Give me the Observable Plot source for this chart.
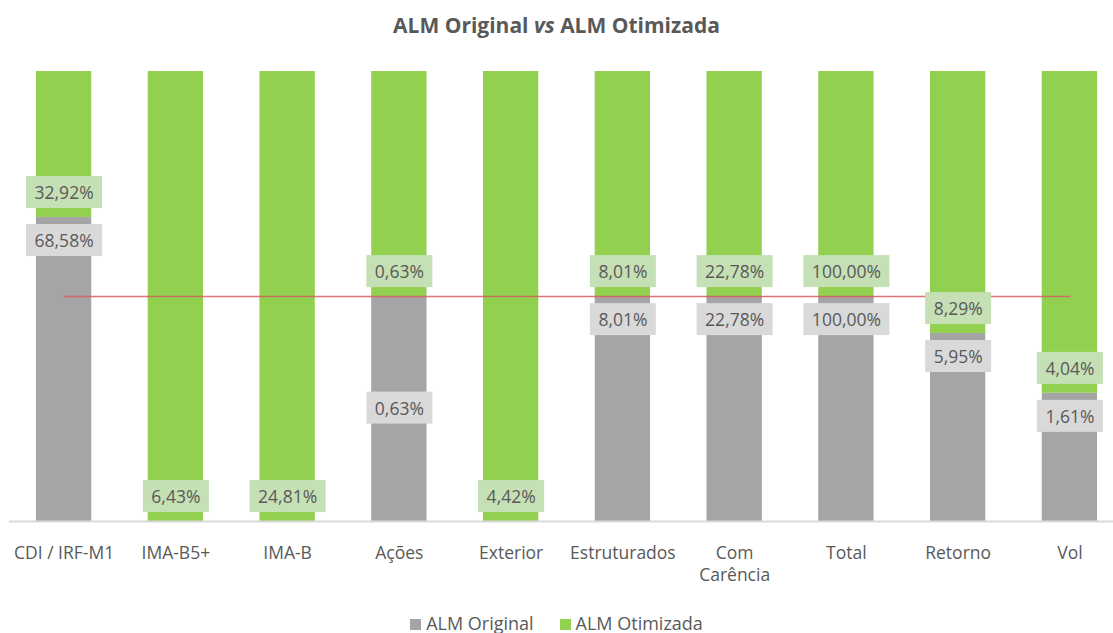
<!DOCTYPE html>
<html>
<head>
<meta charset="utf-8">
<script src="https://cdn.jsdelivr.net/npm/d3@7"></script>
<script src="https://cdn.jsdelivr.net/npm/@observablehq/plot@0.6"></script>
<style>
  html, body { margin: 0; padding: 0; background: #fff; }
  body { width: 1113px; height: 633px; overflow: hidden; font-family: "Open Sans", sans-serif; color: #595959; }
  #title { height: 50px; line-height: 50px; text-align: center; font-weight: bold; font-size: 21px; color: #595959; }
  #legend { height: 38px; display: flex; justify-content: center; align-items: center; gap: 26px; font-size: 18px; color: #595959; padding-top: 18px; box-sizing: border-box;}
  #legend span.sw { display: inline-block; width: 11px; height: 11px; margin-right: 5px; vertical-align: 0px; }
</style>
</head>
<body>
<div id="title">ALM Original <i>vs</i> ALM Otimizada</div>
<div id="chart"></div>
<div id="legend"></div>
<script>
const categories = ["CDI / IRF-M1", "IMA-B5+", "IMA-B", "Ações", "Exterior", "Estruturados", "Com Carência", "Total", "Retorno", "Vol"];
const tickLabels = ["CDI / IRF-M1", "IMA-B5+", "IMA-B", "Ações", "Exterior", "Estruturados", "Com\nCarência", "Total", "Retorno", "Vol"];
const almOriginal = [68.58, 0, 0, 0.63, 0, 8.01, 22.78, 100.00, 5.95, 1.61];
const almOtimizada = [32.92, 6.43, 24.81, 0.63, 4.42, 8.01, 22.78, 100.00, 8.29, 4.04];
const seriesNames = ["ALM Original", "ALM Otimizada"];
const seriesColors = ["#a5a5a5", "#92d050"];
const labelBoxColors = ["#d9d9d9", "#c5e0b4"];
const referenceLevel = 0.5;

const fmt = v => v.toFixed(2).replace(".", ",") + "%";

const rows = [];
categories.forEach((c, i) => {
  rows.push({cat: c, series: seriesNames[0], value: almOriginal[i]});
  rows.push({cat: c, series: seriesNames[1], value: almOtimizada[i]});
});
const frac = i => almOriginal[i] / (almOriginal[i] + almOtimizada[i]);
const idx = categories.map((c, i) => i);
const grayIdx = idx.filter(i => almOriginal[i] > 0);

const W = 1113, H = 545;
const chart = Plot.plot({
  width: W,
  height: H,
  marginTop: 21,
  marginBottom: 74,
  marginLeft: 9,
  marginRight: 0,
  style: {fontFamily: "Open Sans, sans-serif", fontSize: "16px", color: "#595959", background: "white"},
  x: {domain: categories, type: "band", range: [8, 1125], paddingInner: 0.505, paddingOuter: 0.25, round: false, axis: null},
  y: {domain: [0, 1], axis: null},
  color: {domain: seriesNames, range: seriesColors},
  marks: [
    Plot.barY(rows, {x: "cat", y: "value", fill: "series", offset: "normalize"}),
    Plot.ruleY([0], {stroke: "#d9d9d9", strokeWidth: 2}),
    Plot.line(categories, {x: d => d, y: () => referenceLevel, stroke: "#d45f5f", strokeOpacity: 0.85, strokeWidth: 1.6}),
    Plot.text(grayIdx, {
      x: i => categories[i],
      y: i => categories[i] === "Ações" ? frac(i) / 2 : frac(i),
      text: i => fmt(almOriginal[i]),
      fill: "#595959", fontSize: 17.5
    }),
    Plot.text(idx, {
      x: i => categories[i],
      y: i => frac(i),
      text: i => fmt(almOtimizada[i]),
      fill: "#595959", fontSize: 17.5
    }),
    Plot.text(idx, {
      x: i => categories[i],
      frameAnchor: "bottom",
      lineAnchor: "top",
      dy: 21,
      lineHeight: 1.3,
      text: i => tickLabels[i],
      fill: "#595959", fontSize: 17.5
    })
  ]
});
document.getElementById("chart").appendChild(chart);

// offsets for labels relative to the top of the gray segment, and background boxes
const groups = chart.querySelectorAll('g[aria-label="text"]');
function boxify(g, color, offsetFn) {
  const texts = Array.from(g.querySelectorAll("text"));
  texts.forEach((t, k) => {
    const off = offsetFn(k);
    if (off) {
      const cur = t.getAttribute("transform") || "";
      t.setAttribute("transform", cur + ` translate(0,${off})`);
    }
  });
  texts.forEach(t => {
    const b = t.getBBox();
    const ctm = t.getAttribute("transform") || "";
    const r = document.createElementNS("http://www.w3.org/2000/svg", "rect");
    const w = b.width + 17, h = 32;
    r.setAttribute("x", b.x + b.width / 2 - w / 2);
    r.setAttribute("y", b.y + b.height / 2 - h / 2);
    r.setAttribute("width", w);
    r.setAttribute("height", h);
    r.setAttribute("fill", color);
    if (ctm) r.setAttribute("transform", ctm);
    g.insertBefore(r, g.firstChild);
  });
}
boxify(groups[0], labelBoxColors[0], k => categories[grayIdx[k]] === "Ações" ? 0 : 24);
boxify(groups[1], labelBoxColors[1], k => -24);

const legend = document.getElementById("legend");
seriesNames.forEach((s, i) => {
  const item = document.createElement("div");
  item.innerHTML = `<span class="sw" style="background:${seriesColors[i]}"></span>${s}`;
  legend.appendChild(item);
});
</script>
</body>
</html>
